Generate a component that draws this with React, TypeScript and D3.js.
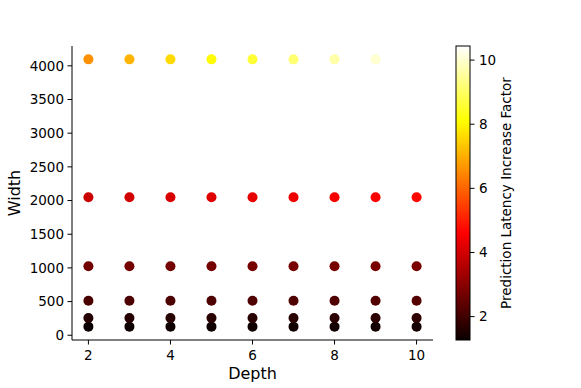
import React from "react";
import * as d3 from "d3";

const depths = [2, 3, 4, 5, 6, 7, 8, 9, 10];
const widths = [128, 256, 512, 1024, 2048, 4096];
const factorW128 = [1.27, 1.3, 1.32, 1.33, 1.35, 1.36, 1.38, 1.39, 1.4];
const factorW256 = [1.62, 1.64, 1.66, 1.67, 1.69, 1.7, 1.72, 1.73, 1.75];
const factorW512 = [2.15, 2.17, 2.18, 2.2, 2.21, 2.22, 2.24, 2.25, 2.27];
const factorW1024 = [2.7, 2.71, 2.72, 2.73, 2.74, 2.75, 2.76, 2.78, 2.8];
const factorW2048 = [3.9, 4.0, 4.1, 4.2, 4.3, 4.4, 4.5, 4.6, 4.7];
const factorW4096 = [6.6, 7.1, 7.6, 8.05, 8.6, 9.15, 9.65, 10.0, 10.44];
const factorRows = [factorW128, factorW256, factorW512, factorW1024, factorW2048, factorW4096];
const xTicks = [2, 4, 6, 8, 10];
const yTicks = [0, 500, 1000, 1500, 2000, 2500, 3000, 3500, 4000];
const cTicks = [2, 4, 6, 8, 10];

function hot(t: number): string {
  t = Math.max(0, Math.min(1, t));
  const r = t < 0.365079 ? 0.0416 + (1 - 0.0416) * (t / 0.365079) : 1;
  const g = t < 0.365079 ? 0 : t < 0.746032 ? (t - 0.365079) / (0.746032 - 0.365079) : 1;
  const b = t < 0.746032 ? 0 : (t - 0.746032) / (1 - 0.746032);
  return d3.rgb(r * 255, g * 255, b * 255).formatHex();
}

export default function App() {
  const W = 581, H = 388;
  const left = 72, right = 433, top = 46, bottom = 340;
  const x = d3.scaleLinear().domain([1.6, 10.4]).range([left, right]);
  const y = d3.scaleLinear().domain([-70.4, 4294.4]).range([bottom, top]);
  const all = factorRows.flat();
  const vmin = d3.min(all)!, vmax = d3.max(all)!;
  const norm = d3.scaleLinear().domain([vmin, vmax]).range([0, 1]);
  const cbL = 456, cbR = 470, cbT = 46, cbB = 340;
  const cy = d3.scaleLinear().domain([vmin, vmax]).range([cbB, cbT]);
  const stops = d3.range(0, 101).map((i) => i / 100);
  const font = "DejaVu Sans, sans-serif";
  const tf = 13.5;

  const points: { d: number; w: number; v: number }[] = [];
  widths.forEach((w, i) => depths.forEach((d, j) => points.push({ d, w, v: factorRows[i][j] })));

  return (
    <svg width={W} height={H} style={{ position: "absolute", left: 0, top: 0 }} fontFamily={font}>
      <defs>
        <linearGradient id="cb" x1="0" y1="1" x2="0" y2="0">
          {stops.map((s) => (
            <stop key={s} offset={s} stopColor={hot(s)} />
          ))}
        </linearGradient>
      </defs>
      <rect width={W} height={H} fill="white" />
      {points.map((p, i) => (
        <circle key={i} cx={x(p.d)} cy={y(p.w)} r={5} fill={hot(norm(p.v))} />
      ))}
      <line x1={left} x2={left} y1={top} y2={bottom} stroke="black" strokeWidth={1} />
      <line x1={left} x2={right} y1={bottom} y2={bottom} stroke="black" strokeWidth={1} />
      {xTicks.map((t) => (
        <g key={t}>
          <line x1={x(t)} x2={x(t)} y1={bottom} y2={bottom + 4.5} stroke="black" />
          <text x={x(t)} y={bottom + 19.5} textAnchor="middle" fontSize={tf}>{t}</text>
        </g>
      ))}
      {yTicks.map((t) => (
        <g key={t}>
          <line x1={left - 4.5} x2={left} y1={y(t)} y2={y(t)} stroke="black" />
          <text x={left - 8} y={y(t)} dy="0.35em" textAnchor="end" fontSize={tf}>{t}</text>
        </g>
      ))}
      <text x={(left + right) / 2} y={379} textAnchor="middle" fontSize={16}>Depth</text>
      <text transform={`translate(20,${(top + bottom) / 2}) rotate(-90)`} textAnchor="middle" fontSize={16}>Width</text>
      <rect x={cbL} y={cbT} width={cbR - cbL} height={cbB - cbT} fill="url(#cb)" stroke="black" strokeWidth={1} />
      {cTicks.map((t) => (
        <g key={t}>
          <line x1={cbR} x2={cbR + 4.5} y1={cy(t)} y2={cy(t)} stroke="black" />
          <text x={cbR + 9} y={cy(t)} dy="0.35em" fontSize={tf}>{t}</text>
        </g>
      ))}
      <text transform={`translate(511,${(cbT + cbB) / 2}) rotate(-90)`} textAnchor="middle" fontSize={13.5}>Prediction Latency Increase Factor</text>
    </svg>
  );
}
